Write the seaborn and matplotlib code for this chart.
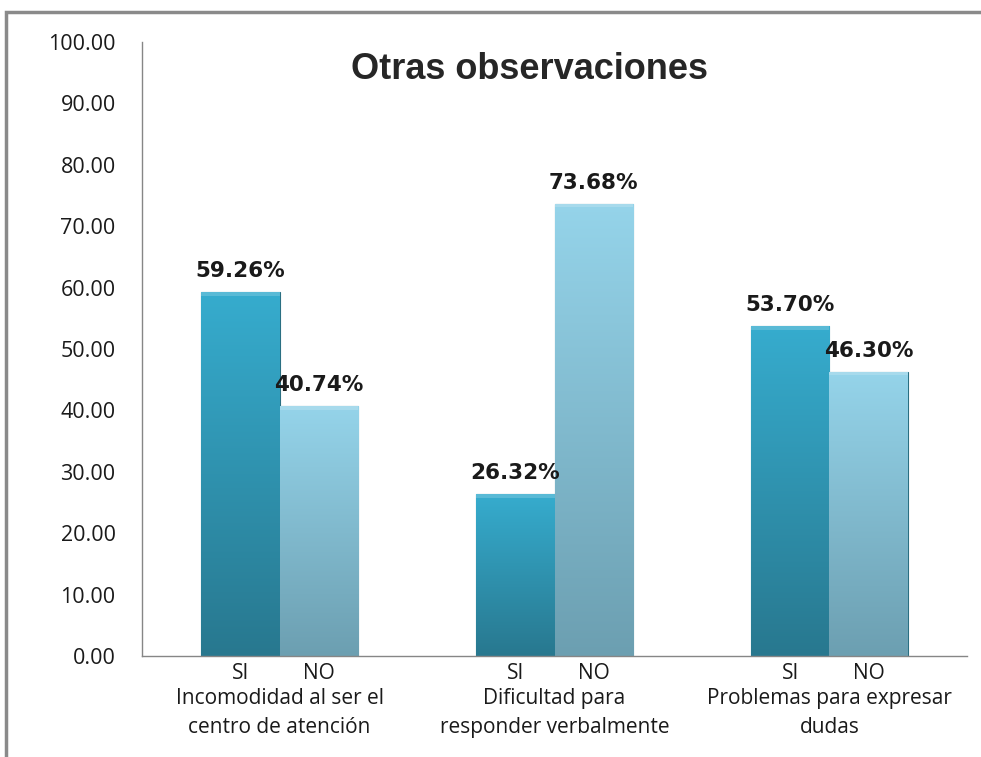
import numpy as np
import pandas as pd
import matplotlib
matplotlib.use("Agg")
import matplotlib.pyplot as plt
import matplotlib.colors as mcolors
from matplotlib.patches import Rectangle
import matplotlib.transforms as mtransforms
import seaborn as sns

# data
groups = ["Incomodidad al ser el\ncentro de atención",
          "Dificultad para\nresponder verbalmente",
          "Problemas para expresar\ndudas"]
answers = ["SI", "NO"]
si_values = [59.26, 26.32, 53.70]
no_values = [40.74, 73.68, 46.30]
yticks = np.arange(0, 101, 10)

df = pd.DataFrame({
    "grupo": groups * 2,
    "respuesta": ["SI"] * 3 + ["NO"] * 3,
    "valor": si_values + no_values,
})

sns.set_style("white")
plt.rcParams["font.family"] = ["Open Sans", "DejaVu Sans"]

fig = plt.figure(figsize=(9.81, 7.57), dpi=100)
ax = fig.add_axes([0.1448, 0.1334, 0.8409, 0.8111])

pal = {"SI": "#31a2c2", "NO": "#86c6dc"}
sns.barplot(data=df, x="grupo", y="valor", hue="respuesta", order=groups,
            hue_order=answers, palette=pal, width=0.57, gap=0,
            edgecolor="#2a6f82", linewidth=0.8, legend=False, ax=ax)

trans = mtransforms.blended_transform_factory(ax.transData, ax.transAxes)

# vertical gradient in the bars, like the Excel bevel look
grads = {"SI": ("#36acce", "#28788f"), "NO": ("#95d4ea", "#6c9fb1")}
for container, ans in zip(ax.containers, answers):
    cmap = mcolors.LinearSegmentedColormap.from_list(ans, [grads[ans][1], grads[ans][0]])
    for bar in container:
        x0, y0 = bar.get_x(), bar.get_y()
        w, h = bar.get_width(), bar.get_height()
        grad = np.linspace(0, 1, 256).reshape(-1, 1)
        im = ax.imshow(grad, extent=[x0, x0 + w, y0, y0 + h], origin="lower",
                       aspect="auto", cmap=cmap, zorder=bar.get_zorder() + 0.1)
        im.set_clip_path(bar)
        # slightly lighter top cap
        ax.add_patch(Rectangle((x0, y0 + h - 0.6), w, 0.6, facecolor="white",
                               alpha=0.18, lw=0, zorder=bar.get_zorder() + 0.2))
        ax.annotate(f"{h:.2f}%", (x0 + w / 2, y0 + h), xytext=(0, 8),
                    textcoords="offset points", ha="center", va="bottom",
                    fontsize=15.5, fontweight="bold", family="DejaVu Sans",
                    color="#1a1a1a")
        ax.text(x0 + w / 2, -0.012, ans, transform=trans,
                ha="center", va="top", fontsize=15, color="#1a1a1a")
ax.set_xlim(-0.5, 2.5)
ax.set_ylim(0, 100)

# group labels under the SI/NO labels
for i, g in enumerate(groups):
    ax.text(i, -0.052, g, transform=trans, ha="center", va="top",
            fontsize=15, color="#1a1a1a", linespacing=1.5)

ax.set_xticks([-0.5, 0.5, 1.5, 2.5])
ax.set_xticklabels([])
ax.tick_params(axis="x", length=11, width=1, color="#868686", direction="out")
ax.set_yticks(yticks)
ax.set_yticklabels([f"{v:.2f}" for v in yticks], fontsize=15.5, color="#1a1a1a")
ax.tick_params(axis="y", length=7, width=1, color="#868686", direction="out", pad=12)
ax.set_xlabel("")
ax.set_ylabel("")

for s in ["top", "right"]:
    ax.spines[s].set_visible(False)
for s in ["left", "bottom"]:
    ax.spines[s].set_color("#868686")
    ax.spines[s].set_linewidth(1)

ax.text(0.47, 0.955, "Otras observaciones", transform=ax.transAxes, ha="center",
        va="center", fontsize=26, fontweight="bold", family="Liberation Sans")

# outer chart frame
fig.patches.append(Rectangle((0.006, -0.05), 1.1, 1.034, transform=fig.transFigure,
                             fill=False, edgecolor="#8a8a8a", lw=2.5))

fig.savefig("out.png", dpi=100)
